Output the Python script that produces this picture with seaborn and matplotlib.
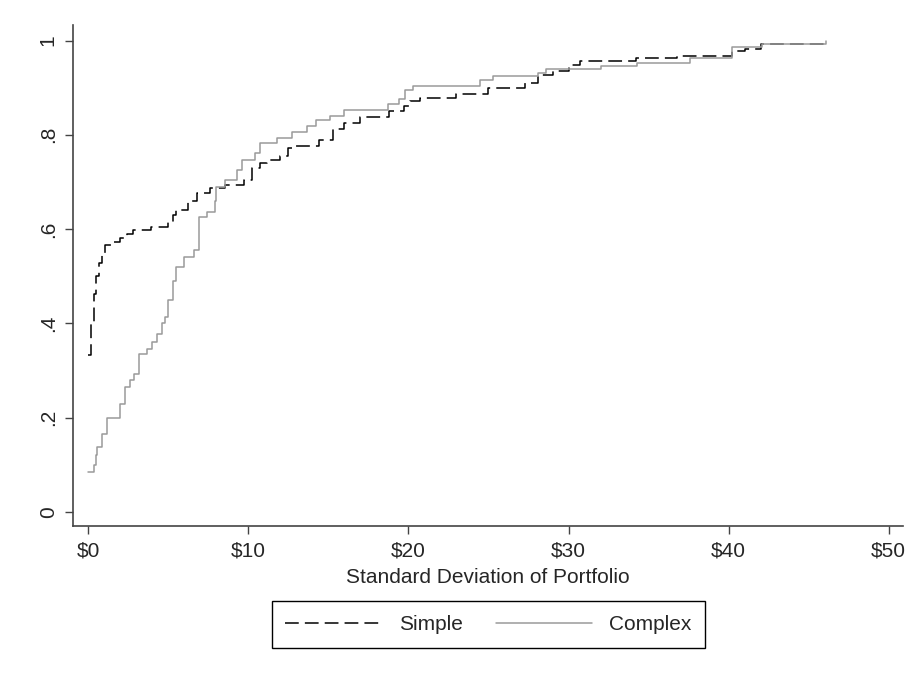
import pandas as pd
import matplotlib.pyplot as plt
import seaborn as sns

simple_x = [0.0, 0.15, 0.33, 0.5, 0.64, 0.85, 1.06, 1.5, 2.0, 2.4, 2.8, 3.9, 5.0, 5.3, 5.5,
            6.2, 6.8, 7.6, 8.55, 9.7, 10.2, 10.7, 11.15, 12.0, 12.5, 13.0, 14.4, 15.3, 16.0,
            17.0, 18.8, 19.7, 20.1, 20.7, 23.0, 25.0, 27.3, 28.1, 29.0, 30.0, 30.2, 30.7,
            34.2, 36.8, 40.2, 41.0, 42.0, 46.0]
simple_y = [0.332, 0.40, 0.463, 0.50, 0.527, 0.55, 0.566, 0.572, 0.58, 0.59, 0.598, 0.605,
            0.616, 0.63, 0.64, 0.66, 0.676, 0.687, 0.694, 0.704, 0.729, 0.74, 0.747, 0.754,
            0.772, 0.776, 0.788, 0.812, 0.825, 0.838, 0.85, 0.861, 0.871, 0.878, 0.887, 0.90,
            0.91, 0.927, 0.935, 0.942, 0.949, 0.957, 0.962, 0.968, 0.977, 0.981, 0.993, 1.0]

complex_x = [0.0, 0.33, 0.45, 0.54, 0.85, 1.17, 2.0, 2.3, 2.6, 2.83, 3.14, 3.66, 4.0, 4.29,
             4.6, 4.8, 5.0, 5.3, 5.5, 6.0, 6.6, 6.9, 7.4, 7.9, 8.0, 8.55, 9.28, 9.6, 10.4,
             10.7, 11.8, 12.7, 13.65, 14.2, 15.1, 16.0, 18.7, 19.4, 19.8, 20.3, 24.5, 25.3,
             28.1, 28.6, 32.0, 34.3, 37.6, 40.2, 42.1, 46.1]
complex_y = [0.084, 0.10, 0.12, 0.137, 0.165, 0.20, 0.229, 0.264, 0.28, 0.293, 0.336, 0.345,
             0.36, 0.378, 0.40, 0.413, 0.449, 0.49, 0.52, 0.54, 0.555, 0.626, 0.636, 0.66,
             0.69, 0.704, 0.726, 0.747, 0.761, 0.782, 0.793, 0.807, 0.818, 0.832, 0.839,
             0.853, 0.865, 0.876, 0.896, 0.904, 0.916, 0.924, 0.931, 0.94, 0.946, 0.953,
             0.963, 0.986, 0.993, 1.0]

groups = ['Simple', 'Complex']
x_ticks = [0, 10, 20, 30, 40, 50]
x_labels = ['$0', '$10', '$20', '$30', '$40', '$50']
y_ticks = [0, 0.2, 0.4, 0.6, 0.8, 1.0]
y_labels = ['0', '.2', '.4', '.6', '.8', '1']

df = pd.concat([
    pd.DataFrame({'sd': simple_x, 'cdf': simple_y, 'group': 'Simple'}),
    pd.DataFrame({'sd': complex_x, 'cdf': complex_y, 'group': 'Complex'}),
])

sns.set_style('white')
plt.rcParams['font.family'] = ['Liberation Sans', 'DejaVu Sans']

fig = plt.figure(figsize=(9.15, 6.75), dpi=100)
ax = fig.add_axes([0.0798, 0.2207, 0.9071, 0.7423])

sns.lineplot(data=df, x='sd', y='cdf', hue='group', style='group',
             hue_order=groups, style_order=groups,
             palette={'Simple': 'black', 'Complex': '#9a9a9a'},
             dashes={'Simple': (9, 4), 'Complex': ''},
             estimator=None, sort=True, drawstyle='steps-post',
             linewidth=1.1, ax=ax)

ax.set_xlim(-0.96, 50.9)
ax.set_ylim(-0.030, 1.033)
ax.set_xticks(x_ticks)
ax.set_xticklabels(x_labels)
ax.set_yticks(y_ticks)
ax.set_yticklabels(y_labels, rotation=90, va='center')
ax.set_xlabel('Standard Deviation of Portfolio', fontsize=15, labelpad=5)
ax.set_ylabel('')
ax.tick_params(axis='both', labelsize=15, length=6, width=1.0, color='#444444',
               direction='out', left=True, bottom=True)
ax.tick_params(axis='x', pad=5.5)
ax.tick_params(axis='y', pad=5)
for s in ['top', 'right']:
    ax.spines[s].set_visible(False)
for s in ['left', 'bottom']:
    ax.spines[s].set_color('#444444')
    ax.spines[s].set_linewidth(1.2)

handles, labels = ax.get_legend_handles_labels()
ax.legend(handles, labels, loc='center', bbox_to_anchor=(0.5006, -0.1966), ncol=2,
          frameon=True, fancybox=False, edgecolor='black', framealpha=1,
          fontsize=15, handlelength=4.6, columnspacing=1.6, handletextpad=0.85,
          borderpad=0.65)

plt.savefig('out.png', dpi=100)
